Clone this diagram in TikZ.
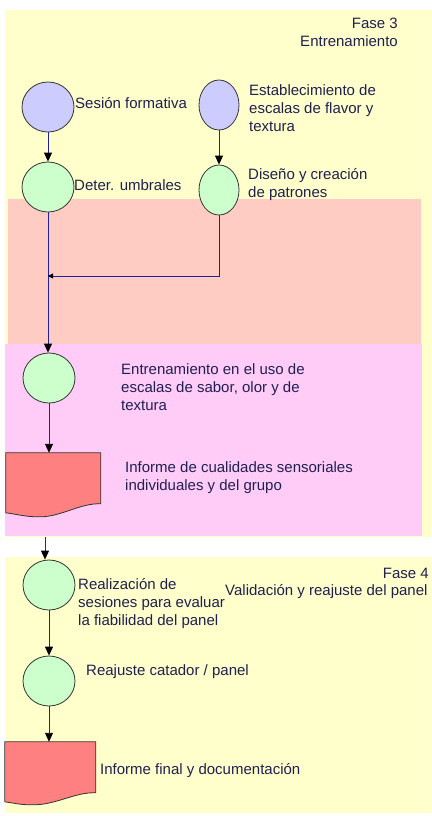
\documentclass[tikz,border=0pt]{standalone}
\usepackage{fontspec}
\setmainfont{Liberation Sans}
\usepackage{tikz}
\usetikzlibrary{positioning}
\usetikzlibrary{arrows.meta,shapes.geometric}

\definecolor{amarillo}{HTML}{FFFFCC}
\definecolor{salmon}{HTML}{FFCCC4}
\definecolor{rosa}{HTML}{FFCCF8}
\definecolor{verde}{HTML}{CCFFCC}
\definecolor{lila}{HTML}{CCCCFF}
\definecolor{rojo}{HTML}{FF8080}
\definecolor{azul}{HTML}{2020A0}
\definecolor{tinta}{HTML}{202050}

\tikzset{
  paso/.style={ellipse,draw=black!80,line width=.8pt,fill=verde,minimum width=52pt,minimum height=50pt,inner sep=0pt},
  pasoe/.style={paso,minimum width=40pt},
  hoja/.style={rectangle,minimum width=95pt,minimum height=64pt,inner sep=0pt},
  doc/.style={draw=black!80,line width=.8pt,fill=rojo},
  etiqueta/.style={anchor=west,align=left,inner sep=0pt,text=tinta,font=\fontsize{15}{18}\selectfont},
  flecha/.style={draw=azul,line width=.9pt,-{Triangle[width=8pt,length=9pt,color=black]}},
  flechita/.style={draw=azul,line width=.9pt,-{Triangle[width=5pt,length=5pt,color=black]}}
}

\begin{document}
\begin{tikzpicture}[x=1pt,y=-1pt]
        \useasboundingbox (0,0) rectangle (431,816);
        \clip (0,0) rectangle (431,816);

        \fill[amarillo] (5,10) rectangle (431,537);
        \fill[salmon] (8,199) rectangle (421,344);
        \fill[rosa] (5,344) rectangle (422,536);
        \fill[amarillo] (5,557) rectangle (431,813);

        \node[etiqueta,anchor=north east,align=right] (fase3) at (398,18) {Fase 3\\Entrenamiento};
        \node[etiqueta,anchor=east] (fase4) at (429,573) {Fase 4};
        \node[etiqueta] (fase4t) at (225,592) {Validación y reajuste del panel};

        \node[paso,fill=lila] (sesion) at (48,107) {};
        \node[pasoe,fill=lila] (escalas) at (219,105) {};
        \node[paso] (umbrales) at (48,187) {};
        \node[pasoe] (patrones) at (219,190) {};
        \coordinate (union) at (48,276);
        \node[paso] (entreno) at (49,378) {};
        \node[hoja] (informe) at (53.5,485) {};
        \coordinate (salida) at (45,537);
        \node[paso] (sesiones) at (49,585) {};
        \node[paso] (reajuste) at (49,681) {};
        \node[hoja,minimum width=91pt,minimum height=63pt] (final) at (50.5,773.5) {};

        \draw[doc,shift={(informe.north west)}] (0,0) -- (95,0) -- (95,51)
          .. controls (74,50) and (54,65) .. (32,64) .. controls (19,64) and (9,61) .. (0,60) -- cycle;
        \draw[doc,shift={(final.north west)}] (0,0) -- (91,0) -- (91,51)
          .. controls (70,50) and (50,64) .. (26,63) .. controls (15,63) and (8,61) .. (0,60) -- cycle;

        \node[etiqueta] (t-sesion) at (75,103) {Sesión formativa};
        \node[etiqueta] (t-escalas) at (249,108) {Establecimiento de\\escalas de flavor y\\textura};
        \node[etiqueta] (t-umbrales) at (74,185) {Deter. umbrales};
        \node[etiqueta] (t-patrones) at (248,185) {Diseño y creación\\de patrones};
        \node[etiqueta] (t-entreno) at (121,387) {Entrenamiento en el uso de\\escalas de sabor, olor y de\\textura};
        \node[etiqueta] (t-informe) at (125,478) {Informe de cualidades sensoriales\\individuales y del grupo};
        \node[etiqueta] (t-sesiones) at (78,604) {Realización de\\sesiones para evaluar\\la fiabilidad del panel};
        \node[etiqueta] (t-reajuste) at (86,672) {Reajuste catador / panel};
        \node[etiqueta] (t-final) at (100,771) {Informe final y documentación};

        \draw[flecha] (sesion) -- (umbrales);
        \draw[flecha] (escalas) -- (patrones);
        \draw[flecha] (umbrales) -- (umbrales |- entreno.north);
        \draw[flechita] (patrones) |- (union);
        \draw[flecha] (entreno.south) -- (entreno.south |- informe.north);
        \draw[flecha] (salida) -- (salida |- sesiones.north);
        \draw[flecha] (sesiones) -- (reajuste);
        \draw[flecha] (reajuste.south) -- (reajuste.south |- final.north);
      \end{tikzpicture}
\end{document}
